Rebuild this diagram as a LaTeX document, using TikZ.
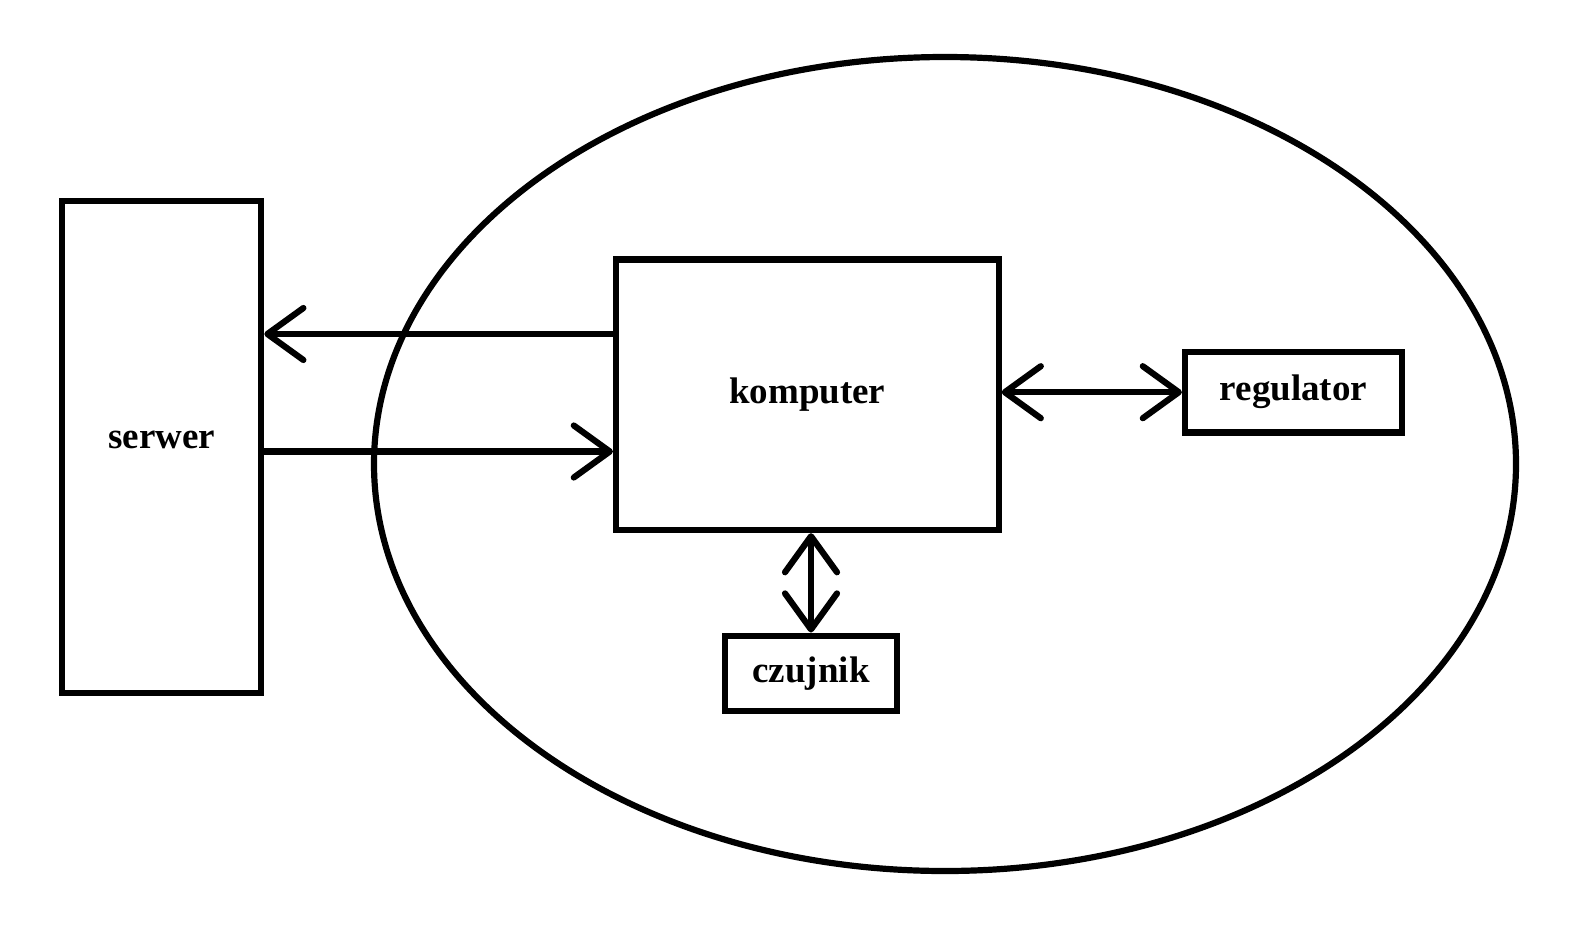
\documentclass[tikz,border=0pt]{standalone}
\usepackage{fontspec}
\setmainfont{Liberation Serif}
\usetikzlibrary{arrows.meta}
\begin{document}
\begin{tikzpicture}[x=1pt,y=-1pt,
  line width=6.2pt,
  box/.style={draw, rectangle, inner sep=0pt, font=\fontsize{37}{44}\selectfont\bfseries},
  arr/.style={-{Straight Barb[length=36pt,width=52pt,line cap=round,line join=round]}},
  darr/.style={{Straight Barb[length=36pt,width=52pt,line cap=round,line join=round]}-{Straight Barb[length=36pt,width=52pt,line cap=round,line join=round]}}]
\useasboundingbox (0,0) rectangle (1577,930);
\draw (945,464) ellipse [x radius=571, y radius=407];
\node[box, minimum width=199pt, minimum height=492pt, text height=17pt, text depth=14pt] (serwer) at (161.7,447) {serwer};
\node[box, minimum width=382.6pt, minimum height=270.5pt] (komputer) at (807.3,394.8) {komputer};
\node[box, minimum width=217pt, minimum height=80.5pt, text height=26pt, text depth=10pt] (regulator) at (1293.5,392.2) {regulator};
\node[box, minimum width=172pt, minimum height=75.4pt] (czujnik) at (811,673.3) {czujnik};
\coordinate (ya) at (0,334);
\coordinate (yb) at (0,451.5);
\draw[arr] (komputer.west |- ya) -- (serwer.east |- ya);
\draw[arr] (serwer.east |- yb) -- (komputer.west |- yb);
\draw[darr] (komputer.east |- regulator.west) -- (regulator.west);
\draw[darr] (czujnik.north |- komputer.south) -- (czujnik.north);
\end{tikzpicture}
\end{document}
